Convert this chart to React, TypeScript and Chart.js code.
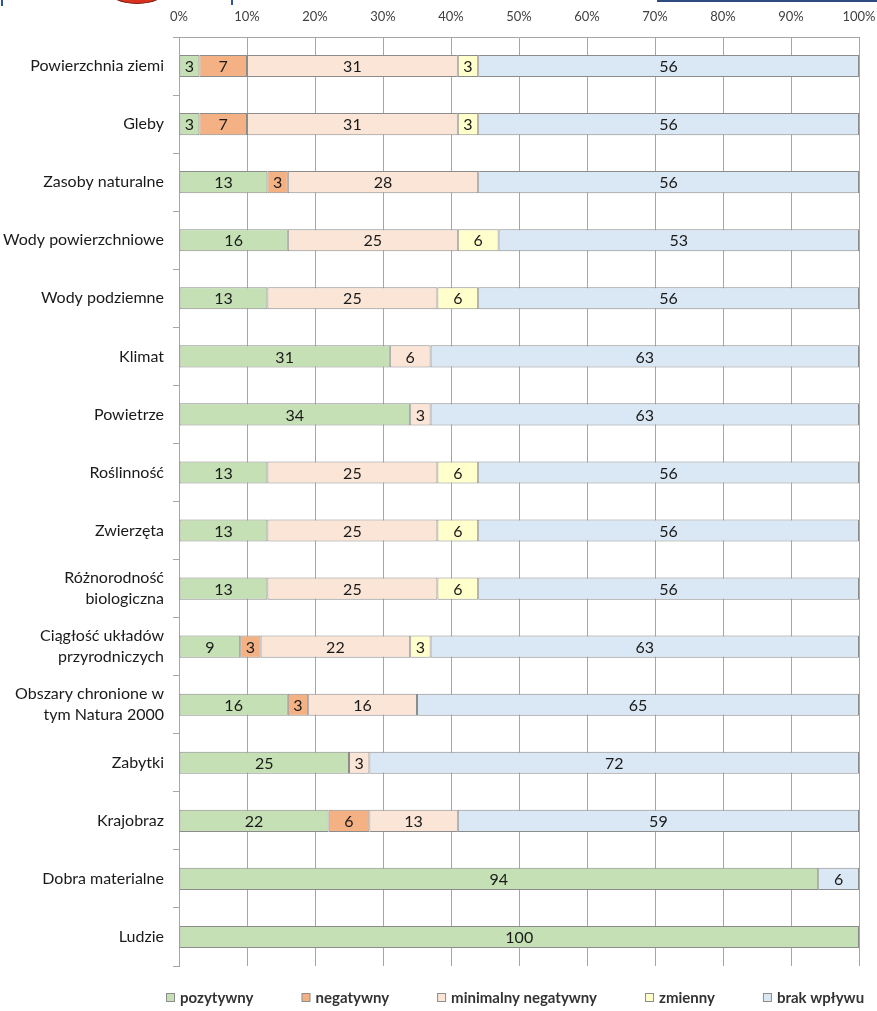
import React, { useEffect, useRef } from "react";
import { Chart, registerables } from "chart.js";

Chart.register(...registerables);

const categories: (string | string[])[] = [
  "Powierzchnia ziemi",
  "Gleby",
  "Zasoby naturalne",
  "Wody powierzchniowe",
  "Wody podziemne",
  "Klimat",
  "Powietrze",
  "Roślinność",
  "Zwierzęta",
  ["Różnorodność", "biologiczna"],
  ["Ciągłość układów", "przyrodniczych"],
  ["Obszary chronione w", "tym Natura 2000"],
  "Zabytki",
  "Krajobraz",
  "Dobra materialne",
  "Ludzie",
];

const pozytywny = [3, 3, 13, 16, 13, 31, 34, 13, 13, 13, 9, 16, 25, 22, 94, 100];
const negatywny = [7, 7, 3, null, null, null, null, null, null, null, 3, 3, null, 6, null, null];
const minimalnyNegatywny = [31, 31, 28, 25, 25, 6, 3, 25, 25, 25, 22, 16, 3, 13, null, null];
const zmienny = [3, 3, null, 6, 6, null, null, 6, 6, 6, 3, null, null, null, null, null];
const brakWplywu = [56, 56, 56, 53, 56, 63, 63, 56, 56, 56, 63, 65, 72, 59, 6, null];

const seriesNames = ["pozytywny", "negatywny", "minimalny negatywny", "zmienny", "brak wpływu"];
const seriesColors = ["#c5e0b4", "#f4b183", "#fbe5d6", "#ffffcc", "#dae7f4"];
const xTicks = [0, 10, 20, 30, 40, 50, 60, 70, 80, 90, 100];

const FONT = "Lato, 'Open Sans', sans-serif";
const BORDER = "#8c8c8c";
const GRID = "#a6a6a6";

const barLabels = {
  id: "barLabels",
  afterDatasetsDraw(chart: any) {
    const ctx = chart.ctx;
    ctx.save();
    ctx.font = `16px ${FONT}`;
    ctx.fillStyle = "#1a1a1a";
    ctx.textAlign = "center";
    ctx.textBaseline = "middle";
    chart.data.datasets.forEach((ds: any, di: number) => {
      const meta = chart.getDatasetMeta(di);
      meta.data.forEach((el: any, i: number) => {
        const v = ds.data[i];
        if (v == null) return;
        const c = el.getCenterPoint();
        ctx.fillText(String(v), c.x, c.y + 1);
      });
    });
    ctx.restore();
  },
};

const customLegend = {
  id: "customLegend",
  afterDraw(chart: any) {
    const ctx = chart.ctx;
    ctx.save();
    ctx.font = `bold 15px ${FONT}`;
    const box = 8;
    const gapText = 6;
    const gap = 48;
    const widths = seriesNames.map((n) => box + gapText + ctx.measureText(n).width);
    const total = widths.reduce((a, b) => a + b, 0) + gap * (widths.length - 1);
    const area = chart.chartArea;
    let x = Math.round((area.left + area.right) / 2 - 4 - total / 2);
    const y = 997;
    seriesNames.forEach((n, i) => {
      ctx.fillStyle = seriesColors[i];
      ctx.fillRect(x + 0.5, y - box / 2 + 0.5, box, box);
      ctx.strokeStyle = BORDER;
      ctx.lineWidth = 1;
      ctx.strokeRect(x + 0.5, y - box / 2 + 0.5, box, box);
      ctx.fillStyle = "#333333";
      ctx.textAlign = "left";
      ctx.textBaseline = "middle";
      ctx.fillText(n, x + box + gapText, y + 1);
      x += widths[i] + gap;
    });
    ctx.restore();
  },
};

export default function App() {
  const ref = useRef<HTMLCanvasElement | null>(null);

  useEffect(() => {
    document.body.style.margin = "0";
    const seriesData = [pozytywny, negatywny, minimalnyNegatywny, zmienny, brakWplywu];
    const chart = new Chart(ref.current as HTMLCanvasElement, {
      type: "bar",
      data: {
        labels: categories as any,
        datasets: seriesNames.map((name, i) => ({
          label: name,
          data: seriesData[i] as any,
          backgroundColor: seriesColors[i],
          borderColor: BORDER,
          borderWidth: 1,
          borderSkipped: false,
          categoryPercentage: 1,
          barPercentage: 0.38,
        })),
      },
      options: {
        indexAxis: "y",
        animation: false,
        responsive: false,
        maintainAspectRatio: false,
        layout: { padding: { left: 0, right: 18, top: 0, bottom: 45 } },
        plugins: {
          legend: { display: false },
          tooltip: { enabled: false },
        },
        scales: {
          x: {
            position: "top",
            stacked: true,
            min: 0,
            max: 100,
            afterBuildTicks: (scale: any) => {
              scale.ticks = xTicks.map((v) => ({ value: v }));
            },
            afterFit: (scale: any) => {
              scale.height = 37;
              scale.paddingLeft = 0;
              scale.paddingRight = 0;
            },
            ticks: {
              callback: (v: any) => `${v}%`,
              font: { family: FONT, size: 13 },
              color: "#404040",
              padding: 12,
              maxRotation: 0,
            },
            grid: { color: GRID, drawTicks: false, lineWidth: 1 },
            border: { display: true, color: GRID },
          },
          y: {
            stacked: true,
            afterFit: (scale: any) => {
              scale.width = 179;
            },
            ticks: {
              font: { family: FONT, size: 16, lineHeight: 1.3 },
              color: "#1a1a1a",
              padding: 9,
              autoSkip: false,
            },
            grid: {
              drawOnChartArea: false,
              drawTicks: true,
              tickLength: 6,
              color: GRID,
              offset: true,
            },
            border: { display: true, color: GRID },
          },
        },
      },
      plugins: [barLabels, customLegend],
    });
    return () => chart.destroy();
  }, []);

  return (
    <div style={{ position: "relative", width: 877, height: 1011, background: "#fff", overflow: "hidden", fontFamily: FONT }}>
      <canvas ref={ref} width={877} height={1011} style={{ display: "block", width: 877, height: 1011 }} />
      <div style={{ position: "absolute", left: 107, top: -26, width: 60, height: 30, borderRadius: "50%", background: "#d9321e", border: "1px solid #7a1a10", boxSizing: "border-box" }} />
      <div style={{ position: "absolute", left: 231, top: 0, width: 2, height: 5, background: "#2e5597" }} />
      <div style={{ position: "absolute", left: 1, top: 0, width: 2, height: 6, background: "#2e5597" }} />
      <div style={{ position: "absolute", left: 657, top: 0, width: 220, height: 2, background: "#2e4a80" }} />
    </div>
  );
}
